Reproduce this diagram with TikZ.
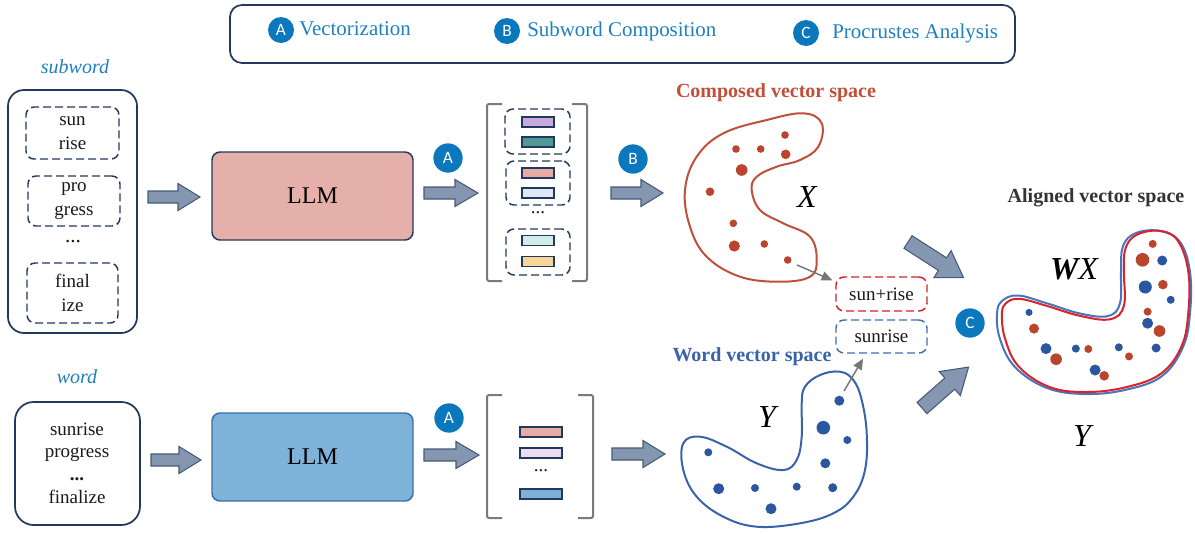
\documentclass[tikz,border=0pt]{standalone}
\usepackage{fontspec}
\setmainfont{Liberation Serif}
\newfontfamily\badgefont{Carlito}
\usetikzlibrary{fit,arrows.meta,calc}

\definecolor{navy}{HTML}{22385C}
\definecolor{badgeblue}{HTML}{0B78BE}
\definecolor{legblue}{HTML}{1E80C1}
\definecolor{llmred}{HTML}{E6B0AA}
\definecolor{llmblue}{HTML}{7EB2D8}
\definecolor{llmblueline}{HTML}{3A6EA8}
\definecolor{arrfill}{HTML}{8597B0}
\definecolor{arrline}{HTML}{465B78}
\definecolor{brackgray}{HTML}{7A7A7A}
\definecolor{compred}{HTML}{C0503A}
\definecolor{dotred}{HTML}{B9452C}
\definecolor{wordblue}{HTML}{3A62AA}
\definecolor{dotblue}{HTML}{2B56A0}
\definecolor{alignred}{HTML}{D9232B}
\definecolor{alignblue}{HTML}{4674BE}
\definecolor{dashred}{HTML}{D0202A}
\definecolor{dashblue}{HTML}{3F6DB0}
\definecolor{barpurple}{HTML}{C9A8DB}
\definecolor{barteal}{HTML}{4F9A94}
\definecolor{barpink}{HTML}{E6ABA4}
\definecolor{barsky}{HTML}{DCE8F5}
\definecolor{barmint}{HTML}{D3EBE6}
\definecolor{barsand}{HTML}{F8D59A}
\definecolor{barlilac}{HTML}{EADFF1}
\definecolor{pointergray}{HTML}{767676}
\definecolor{aligntext}{HTML}{333333}

\tikzset{
  sketchbox/.style={draw=navy, line width=1.3pt, rounded corners=9pt, inner sep=0pt},
  dashbox/.style={draw=navy, line width=1.1pt, dash pattern=on 6pt off 3pt, rounded corners=6pt, inner sep=0pt},
  body/.style={font=\fontsize{14.25}{18}\selectfont, align=center, inner sep=0pt, text=black!90},
  legtext/.style={font=\fontsize{15.7}{17}\selectfont, text=legblue, anchor=west, inner sep=0pt},
  badge/.style={circle, fill=badgeblue, text=white, inner sep=0pt, minimum size=#1,
    font=\badgefont\fontsize{13}{13}\selectfont},
  llmbox/.style={draw=navy, line width=1.1pt, rounded corners=6pt, inner sep=0pt},
  bar/.style={draw=navy, line width=1.1pt, inner sep=0pt, minimum height=7.5pt, minimum width=#1},
  bracket/.style={draw=brackgray, line width=1.5pt, rounded corners=1.5pt},
  arrowbody/.style={fill=arrfill, draw=arrline, line width=0.8pt, line join=miter},
  pics/blockarr/.style n args={4}{code={
    \path[arrowbody] (0,-#2) -- ({#1-#4},-#2) -- ({#1-#4},-#3) -- (#1,0)
      -- ({#1-#4},#3) -- ({#1-#4},#2) -- (0,#2) -- cycle;}},
  spacelabel/.style={font=\bfseries\fontsize{15}{17}\selectfont, inner sep=0pt},
  varlabel/.style={font=\itshape\fontsize{24}{26}\selectfont, inner sep=0pt},
  pointer/.style={draw=pointergray, line width=1.1pt, -{Triangle[length=8pt,width=7pt]}},
  reddot/.style={fill=dotred},
  bluedot/.style={fill=dotblue},
}

\begin{document}
\begin{tikzpicture}[x=0.75pt,y=-0.75pt]
\useasboundingbox (0,0) rectangle (1195,533);

% ---------- legend ----------
\node[sketchbox, fit={(230,5) (1015,63)}] (legend) {};
\node[badge=19.5pt] (bA) at (281,30) {A};
\node[legtext] (lA) at (299,29) {Vectorization};
\node[badge=19.5pt] (bB) at (507,31) {B};
\node[legtext] (lB) at (527,31) {Subword Composition};
\node[badge=19.5pt] (bC) at (806,33) {C};
\node[legtext] (lC) at (832,33) {Procrustes Analysis};

% ---------- subword input ----------
\node[font=\itshape\fontsize{15}{17}\selectfont, text=legblue, inner sep=0pt] (subwordlab) at (75,67) {subword};
\node[sketchbox, rounded corners=12pt, fit={(8,90) (137,333)}] (subbox) {};
\node[dashbox, fit={(26,107) (119,159)}] (g1) {};
\node[body] (g1t) at (g1) {sun\\rise};
\node[dashbox, fit={(28,176) (120,226)}] (g2) {};
\node[body] (g2t) at (g2) {pro\\gress};
\node[body, font=\fontsize{16}{18}\selectfont] (sdots) at (73,242) {...};
\node[dashbox, fit={(27,263) (118,323)}] (g3) {};
\node[body] (g3t) at (g3) {final\\ize};

% ---------- word input ----------
\node[font=\itshape\fontsize{15}{17}\selectfont, text=legblue, inner sep=0pt] (wordlab) at (77,377) {word};
\node[sketchbox, rounded corners=14pt, fit={(15,402) (140,525)}] (wordbox) {};
\node[body, font=\fontsize{14.25}{17}\selectfont] (wordt) at (77,463) {sunrise\\progress\\\textbf{...}\\finalize};

% ---------- block arrows, upper row ----------
\coordinate (au1) at (148,197);
\pic at (au1) {blockarr={52}{6}{13.5}{22}};
\coordinate (au2) at (424,193);
\pic at (au2) {blockarr={54}{6}{13.5}{23}};
\coordinate (au3) at (611,193);
\pic at (au3) {blockarr={52}{6}{13.5}{22}};

% ---------- block arrows, lower row ----------
\coordinate (al1) at (151,460);
\pic at (al1) {blockarr={50}{6}{13.5}{22}};
\coordinate (al2) at (424,455);
\pic at (al2) {blockarr={55}{6}{13.5}{23}};
\coordinate (al3) at (612,454);
\pic at (al3) {blockarr={53}{6}{13.5}{22}};

% ---------- LLM boxes ----------
\node[llmbox, fill=llmred, fit={(212,152) (413,240)}] (llmup) {};
\node[font=\fontsize{18}{20}\selectfont, inner sep=0pt] (llmupt) at (llmup) {LLM};
\node[llmbox, fill=llmblue, draw=llmblueline, fit={(212,413) (413,501)}] (llmlo) {};
\node[font=\fontsize{18}{20}\selectfont, inner sep=0pt] (llmlot) at (llmlo) {LLM};

% ---------- step badges ----------
\node[badge=22pt] (fA) at (448,158) {A};
\node[badge=22pt] (fB) at (633,159) {B};
\node[badge=22pt] (fA2) at (449,418) {A};
\node[badge=22pt] (fC) at (970,323) {C};

% ---------- subword vectors ----------
\draw[bracket] (502,104) -- (487,104) -- (487,281) -- (502,281);
\draw[bracket] (572,104) -- (587,104) -- (587,281) -- (572,281);
\node[dashbox, fit={(505,109) (570,154)}] (vg1) {};
\node[bar=24pt, fill=barpurple] (v1) at (538,122) {};
\node[bar=24pt, fill=barteal] (v2) at (538,142) {};
\node[dashbox, fit={(506,161) (570,205)}] (vg2) {};
\node[bar=24pt, fill=barpink] (v3) at (538,173) {};
\node[bar=24pt, fill=barsky] (v4) at (538,193) {};
\node[body] (vdots) at (538,213) {...};
\node[dashbox, fit={(506,229) (570,275)}] (vg3) {};
\node[bar=24pt, fill=barmint] (v5) at (538,240.5) {};
\node[bar=24pt, fill=barsand] (v6) at (538,261.5) {};

% ---------- word vectors ----------
\draw[bracket] (502,395) -- (487,395) -- (487,518) -- (502,518);
\draw[bracket] (578,395) -- (593,395) -- (593,518) -- (578,518);
\node[bar=31.5pt, fill=barpink] (w1) at (541,432) {};
\node[bar=31.5pt, fill=barlilac] (w2) at (541,453) {};
\node[body] (wdots) at (541,471) {...};
\node[bar=31.5pt, fill=llmblue] (w3) at (541,494) {};

% ---------- composed vector space ----------
\node[spacelabel, text=compred] (complab) at (776,93) {Composed vector space};
\draw[compred, line width=1.5pt] plot[smooth cycle, tension=0.65] coordinates {
  (821.7,123.3) (803.3,113.3) (766.7,120) (723.3,133.3) (696.7,156.7) (685,190)
  (690,226.7) (706.7,256.7) (740,276.7) (780,281.7) (810,276.7) (816.7,260)
  (810,236.7) (783.3,223.3) (760,210) (751.7,190) (756.7,176.7) (776.7,166.7)
  (800,160) (818.3,146.7)};
\fill[reddot] (785,135) circle (3.8);
\fill[reddot] (736,149) circle (3.8);
\fill[reddot] (760.7,149) circle (3.8);
\fill[reddot] (785.7,154.3) circle (4.8);
\fill[reddot] (741.7,170) circle (5.8);
\fill[reddot] (710,191.7) circle (4.3);
\fill[reddot] (733.3,223.3) circle (3.8);
\fill[reddot] (734.3,246) circle (5.6);
\fill[reddot] (764.3,244) circle (3.8);
\fill[reddot] (787.7,260) circle (3.8);
\node[varlabel] (xlab) at (807,197) {X};

% ---------- word vector space ----------
\node[spacelabel, text=wordblue] (wordspacelab) at (752,357) {Word vector space};
\draw[wordblue, line width=1.5pt] plot[smooth cycle, tension=0.65] coordinates {
  (683.3,443.3) (700,436.7) (726.7,446.7) (756.7,463.3) (783.3,470) (796.7,460)
  (801.7,436.7) (801.7,403.3) (805,386.7) (820,375) (840,371.7) (853.3,380)
  (861.7,400) (866.7,433.3) (865,470) (853.3,496.7) (833.3,513.3) (800,523.3)
  (756.7,526.7) (723.3,516.7) (696.7,496.7) (683.3,470)};
\fill[bluedot] (839.3,400.7) circle (5);
\fill[bluedot] (823.3,427.7) circle (6.8);
\fill[bluedot] (847.3,440) circle (4);
\fill[bluedot] (825.3,463.3) circle (5);
\fill[bluedot] (708.3,452.3) circle (4);
\fill[bluedot] (718.7,488.7) circle (5.5);
\fill[bluedot] (755,488) circle (4);
\fill[bluedot] (796.7,486.7) circle (4);
\fill[bluedot] (832.7,487.7) circle (4.5);
\fill[bluedot] (771,508.7) circle (5.5);
\node[varlabel] (ylab) at (767,417) {Y};

% ---------- compared pair ----------
\node[dashbox, draw=dashred, fit={(836,277) (927,311)}] (plusbox) {};
\node[body] (plust) at (plusbox) {sun+rise};
\node[dashbox, draw=dashblue, fit={(836,320) (927,353)}] (plainbox) {};
\node[body] (plaint) at (plainbox) {sunrise};
\coordinate (rsrc) at (797,265);
\draw[pointer] (rsrc) -- ($(plusbox.north west)+(-3,4)$);
\coordinate (bsrc) at (844,391);
\draw[pointer] (bsrc) -- ($(plainbox.south west)!0.3!(plainbox.south east)+(0,5)$);

% ---------- arrows into the alignment ----------
\coordinate (ad1) at (908,242);
\pic[rotate=-32.7] at (ad1) {blockarr={66}{7.5}{16}{25}};
\coordinate (ad2) at (922,408);
\pic[rotate=41.3] at (ad2) {blockarr={62}{7.5}{16}{25}};

% ---------- aligned vector space ----------
\node[spacelabel, text=aligntext] (alignlab) at (1096,198) {Aligned vector space};
\draw[alignblue, line width=1.5pt] plot[smooth cycle, tension=0.65] coordinates {
  (1002,301) (1018,295.5) (1046,303) (1080,313.5) (1108,316) (1120,303) (1121,271)
  (1123,246) (1136,233) (1160,231) (1180,242) (1190,272) (1190,313) (1183,347)
  (1162,376) (1127,389.5) (1086,394) (1047,388) (1015,367) (1000,339) (997,314)};
\draw[alignred, line width=1.5pt] plot[smooth cycle, tension=0.65] coordinates {
  (1005.3,303.9) (1018.8,298.8) (1045.9,305.6) (1079.8,315.8) (1110.3,319.2)
  (1123.9,305.6) (1123.9,271.7) (1125.6,248) (1137.5,234.4) (1161.2,231)
  (1178.1,241.2) (1188.3,271.7) (1188.3,312.4) (1181.5,346.3) (1161.2,373.4)
  (1127.3,386.9) (1086.6,392) (1049.3,386.9) (1018.8,366.6) (1005.3,339.5)
  (1001.9,315.8)};
\fill[reddot] (1152.7,243.9) circle (4);
\fill[reddot] (1142.5,259.8) circle (6.8);
\fill[reddot] (1162.9,284.6) circle (4.8);
\fill[reddot] (1147.6,311.7) circle (4);
\fill[reddot] (1159.5,331) circle (5.8);
\fill[reddot] (1034,328.6) circle (5);
\fill[reddot] (1056.1,359.2) circle (5.8);
\fill[reddot] (1088.3,349) circle (4);
\fill[reddot] (1129,356.4) circle (4);
\fill[reddot] (1104.2,375.8) circle (4.8);
\fill[bluedot] (1162.2,260.5) circle (5);
\fill[bluedot] (1145.3,287) circle (6.5);
\fill[bluedot] (1170.7,299.8) circle (4);
\fill[bluedot] (1029,312.4) circle (3.5);
\fill[bluedot] (1147.6,323.2) circle (5.5);
\fill[bluedot] (1046,348.6) circle (5.5);
\fill[bluedot] (1075.8,348.6) circle (4);
\fill[bluedot] (1118.8,347.3) circle (4);
\fill[bluedot] (1156.1,348) circle (4.5);
\fill[bluedot] (1095.1,370) circle (5.5);
\node[varlabel] (wxlab) at (1074,269) {\textbf{W}X};
\node[varlabel] (ylab2) at (1082,436) {Y};
\end{tikzpicture}
\end{document}
